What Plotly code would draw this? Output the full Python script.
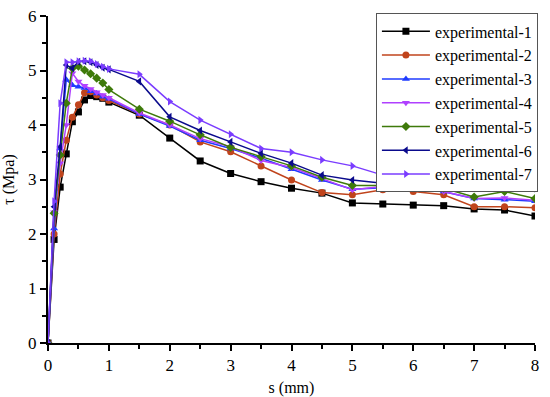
import plotly.graph_objects as go

s = [0, 0.1, 0.2, 0.3, 0.4, 0.5, 0.6, 0.7, 0.8, 0.9, 1.0, 1.5, 2, 2.5, 3, 3.5, 4, 4.5, 5, 5.5, 6, 6.5, 7, 7.5, 8]

exp1 = [0, 1.9, 2.86, 3.47, 4.06, 4.24, 4.46, 4.54, 4.52, 4.49, 4.42, 4.18, 3.76, 3.34, 3.11, 2.96, 2.84, 2.75, 2.57, 2.55, 2.53, 2.52, 2.46, 2.44, 2.33]
exp2 = [0, 2.0, 3.1, 3.72, 4.14, 4.37, 4.59, 4.61, 4.55, 4.5, 4.45, 4.2, 4.0, 3.69, 3.51, 3.25, 2.99, 2.76, 2.72, 2.81, 2.78, 2.72, 2.5, 2.5, 2.48]
exp3 = [0, 2.1, 3.57, 4.83, 4.73, 4.7, 4.68, 4.62, 4.58, 4.52, 4.48, 4.2, 3.98, 3.72, 3.57, 3.39, 3.19, 2.99, 2.82, 2.85, 2.9, 2.78, 2.65, 2.63, 2.6]
exp4 = [0, 2.4, 3.3, 4.0, 4.95, 4.8, 4.72, 4.66, 4.6, 4.55, 4.5, 4.22, 4.0, 3.75, 3.6, 3.35, 3.22, 3.02, 2.81, 2.87, 2.92, 2.78, 2.65, 2.66, 2.62]
exp5 = [0, 2.38, 3.45, 4.4, 5.04, 5.08, 5.01, 4.94, 4.86, 4.77, 4.65, 4.29, 4.07, 3.82, 3.59, 3.42, 3.25, 3.04, 2.89, 2.89, 2.94, 2.84, 2.68, 2.78, 2.65]
exp6 = [0, 2.5, 3.6, 5.1, 5.04, 5.16, 5.17, 5.15, 5.1, 5.05, 5.02, 4.8, 4.15, 3.9, 3.69, 3.48, 3.3, 3.08, 2.99, 2.93, 2.94, 2.91, 2.84, 2.84, 2.81]
exp7 = [0, 2.6, 4.4, 5.15, 5.15, 5.17, 5.18, 5.17, 5.12, 5.07, 5.03, 4.93, 4.43, 4.09, 3.83, 3.57, 3.5, 3.36, 3.25, 3.08, 2.95, 2.93, 2.84, 2.9, 2.87]

names = ["experimental-1", "experimental-2", "experimental-3", "experimental-4",
         "experimental-5", "experimental-6", "experimental-7"]
series = [exp1, exp2, exp3, exp4, exp5, exp6, exp7]
colors = ["#000000", "#C0441C", "#1F3BFF", "#B040FF", "#3E7A0A", "#0A0A8C", "#7A3CFF"]
symbols = ["square", "circle", "triangle-up", "triangle-down", "diamond", "triangle-left", "triangle-right"]

fig = go.Figure()
for n, y, c, m in zip(names, series, colors, symbols):
    fig.add_trace(go.Scatter(x=s, y=y, name=n, mode="lines+markers",
                             line=dict(color=c, width=1.5),
                             marker=dict(color=c, symbol=m, size=7)))

font = "Liberation Serif, Times New Roman, serif"
fig.update_layout(
    width=550, height=397,
    margin=dict(l=48, r=13, t=16, b=54),
    paper_bgcolor="white", plot_bgcolor="white",
    font=dict(family=font, size=17, color="black"),
    showlegend=True,
    legend=dict(x=1.006, y=1.008, xanchor="right", yanchor="top",
                bordercolor="#555555", borderwidth=1, bgcolor="white",
                itemwidth=48,
                font=dict(family="Liberation Serif", size=16), tracegroupgap=0),
)
fig.update_xaxes(range=[0, 8], showline=True, linecolor="black", linewidth=2,
                 ticks="outside", ticklen=6, tickwidth=2, tickcolor="black",
                 dtick=1, showgrid=False, zeroline=False, automargin=False,
                 tickfont=dict(size=17),
                 minor=dict(ticks="outside", ticklen=4, tickwidth=1.5, tickcolor="black", dtick=0.5),
                 title=dict(text="s (mm)", font=dict(size=16)))
fig.update_yaxes(range=[0, 6], showline=True, linecolor="black", linewidth=2,
                 ticks="outside", ticklen=6, tickwidth=2, tickcolor="black",
                 dtick=1, showgrid=False, zeroline=False, automargin=False,
                 tickfont=dict(size=17),
                 minor=dict(ticks="outside", ticklen=4, tickwidth=1.5, tickcolor="black", dtick=0.5),
                 title=dict(text="τ (Mpa)", font=dict(size=16)))

fig.write_html("out.html", config={"displayModeBar": False},
               post_script="document.body.style.margin='0';document.body.style.padding='0';")
